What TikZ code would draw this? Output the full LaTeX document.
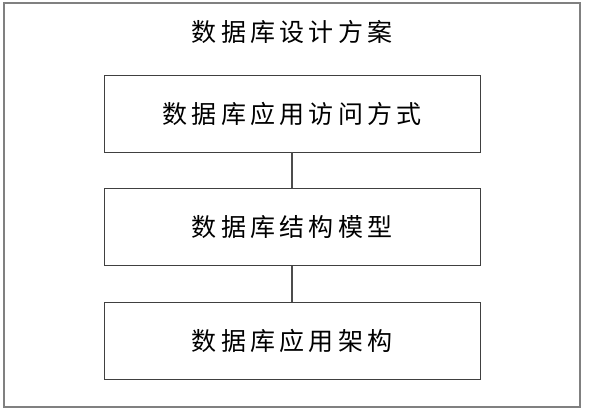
\documentclass[tikz,border=0pt]{standalone}
\usepackage{fontspec}
\newfontfamily\cjk[LetterSpace=17]{Noto Sans CJK SC}
\usetikzlibrary{positioning}
\tikzstyle{box}=[rectangle,draw=black!75,line width=0.9pt,minimum width=376pt,minimum height=77pt,text centered,font=\cjk\fontsize{25}{25}\selectfont]
\tikzstyle{frame}=[rectangle,draw=black!50,line width=1.4pt,minimum width=576pt,minimum height=404pt]
\tikzstyle{heading}=[font=\cjk\fontsize{25}{25}\selectfont]
\tikzstyle{link}=[-,line width=1.4pt,draw=black!70]

\begin{document}
\begin{tikzpicture}[x=1pt,y=1pt]
\useasboundingbox (0,0) rectangle (591,-416);

\node (frame) [frame] at (292,-205) {};
\node (title) [heading] at (292,-32) {数据库设计方案};

\node (access) [box] at (292,-113.5) {数据库应用访问方式};
\node (model) [box,below=36pt of access] {数据库结构模型};
\node (arch) [box,below=36pt of model] {数据库应用架构};

\draw [link] (access) -- (model) ;
\draw [link] (model) -- (arch) ;

\end{tikzpicture}
\end{document}
